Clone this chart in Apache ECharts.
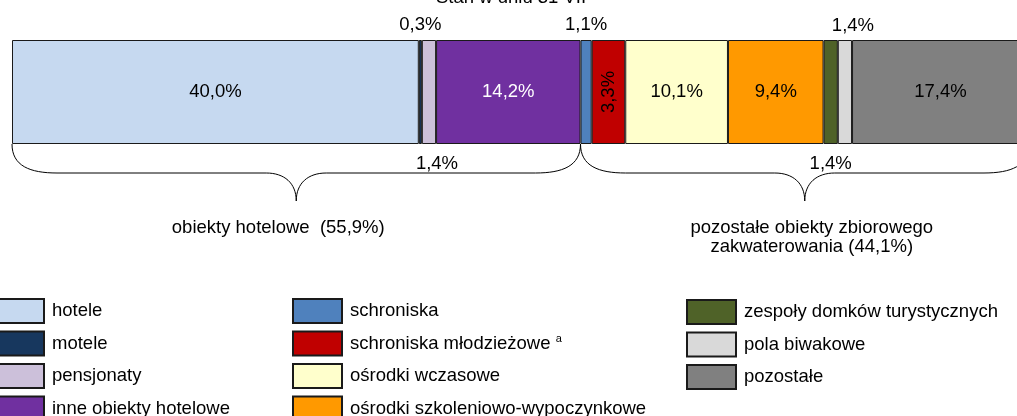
<!DOCTYPE html>
<html>
<head>
<meta charset="utf-8">
<script src="https://cdn.jsdelivr.net/npm/echarts@6/dist/echarts.min.js"></script>
<style>
html,body{margin:0;padding:0;background:#fff;overflow:hidden;width:1017px;height:416px;}
#chart{width:1045px;height:440px;}
</style>
</head>
<body>
<div id="chart"></div>
<script>
// ---- data ----
const categoryNames = ['hotele', 'motele', 'pensjonaty', 'inne obiekty hotelowe',
  'schroniska', 'schroniska młodzieżowe', 'ośrodki wczasowe', 'ośrodki szkoleniowo-wypoczynkowe',
  'zespoły domków turystycznych', 'pola biwakowe', 'pozostałe'];
const shares = [40.0, 0.3, 1.4, 14.2, 1.1, 3.3, 10.1, 9.4, 1.4, 1.4, 17.4];
const groupNames = ['obiekty hotelowe  (55,9%)', 'pozostałe obiekty zbiorowego\nzakwaterowania (44,1%)'];
const groupStart = [0, 55.9];
const groupEnd = [55.9, 100];
const titleText = 'Stan w dniu 31 VII';
const legendCol1 = ['hotele', 'motele', 'pensjonaty', 'inne obiekty hotelowe'];
const legendCol2 = ['schroniska', 'schroniska młodzieżowe', 'ośrodki wczasowe', 'ośrodki szkoleniowo-wypoczynkowe'];
const legendCol3 = ['zespoły domków turystycznych', 'pola biwakowe', 'pozostałe'];

// ---- styles ----
const FONT = "'Liberation Sans', Arial, sans-serif";
const FS = 18.5;
const colors = ['#C6D9F0', '#17375E', '#CCC0DA', '#7030A0', '#4F81BD', '#C00000',
  '#FFFFCC', '#FF9900', '#4F6228', '#D9D9D9', '#808080'];
const labelCfg = [
  {position: 'inside', color: '#000'},
  {position: 'top', distance: 6},
  {position: 'bottom', distance: 10, offset: [8, 0]},
  {position: 'inside', color: '#fff'},
  {position: 'top', distance: 6},
  {position: 'inside', color: '#000', rotate: 90},
  {position: 'inside', color: '#000'},
  {position: 'inside', color: '#000'},
  {position: 'bottom', distance: 10},
  {position: 'top', distance: 5, offset: [8, 0]},
  {position: 'inside', color: '#000'}
];
const groupLabelDx = [-18, 7];

const fmt = v => v.toFixed(1).replace('.', ',') + '%';

const series = categoryNames.map((name, i) => ({
  name: name,
  type: 'bar',
  stack: 'all',
  barWidth: '100%',
  data: [shares[i]],
  itemStyle: {color: colors[i], borderColor: '#1a1a1a', borderWidth: 1},
  label: Object.assign({
    show: true,
    color: '#000',
    fontFamily: FONT,
    fontSize: FS,
    formatter: p => fmt(p.value)
  }, labelCfg[i]),
  emphasis: {disabled: true},
  silent: true
}));

series.push({
  type: 'custom',
  name: 'braces',
  clip: false,
  silent: true,
  encode: {x: [0, 1], y: 2},
  data: groupStart.map((s, i) => [s, groupEnd[i], 0, i]),
  renderItem: function (params, api) {
    const s = api.value(0), e = api.value(1), idx = api.value(3);
    const p1 = api.coord([s, 0]);
    const p2 = api.coord([e, 0]);
    const band = api.size([0, 1])[1];
    const yb = p1[1] + band / 2;
    const x1 = p1[0], x2 = p2[0], mid = (x1 + x2) / 2;
    const yh = yb + 29, yt = yb + 57;
    const path =
      'M' + x1 + ' ' + yb +
      ' C' + x1 + ' ' + (yb + 22) + ' ' + (x1 + 18) + ' ' + yh + ' ' + (x1 + 45) + ' ' + yh +
      ' L' + (mid - 30) + ' ' + yh +
      ' C' + (mid - 12) + ' ' + yh + ' ' + mid + ' ' + (yh + 10) + ' ' + mid + ' ' + yt +
      ' M' + mid + ' ' + yt +
      ' C' + mid + ' ' + (yh + 10) + ' ' + (mid + 12) + ' ' + yh + ' ' + (mid + 30) + ' ' + yh +
      ' L' + (x2 - 45) + ' ' + yh +
      ' C' + (x2 - 18) + ' ' + yh + ' ' + x2 + ' ' + (yb + 22) + ' ' + x2 + ' ' + yb;
    return {
      type: 'group',
      children: [
        {type: 'path', shape: {pathData: path}, style: {stroke: '#000', fill: null, lineWidth: 1}},
        {type: 'text', style: {
          text: groupNames[idx], x: mid + groupLabelDx[idx], y: yt + 17,
          align: 'center', verticalAlign: 'top', lineHeight: 19,
          fontFamily: FONT, fontSize: FS, fill: '#000'
        }}
      ]
    };
  }
});

function legendCol(data, left, top) {
  return {
    data: data.map(n => ({name: n, icon: 'rect'})),
    orient: 'vertical',
    left: left,
    top: top,
    padding: 0,
    itemWidth: 49,
    itemHeight: 24,
    itemGap: 6.5,
    selectedMode: false,
    formatter: n => n === 'schroniska młodzieżowe' ? n + ' {sup|a}' : n,
    textStyle: {
      fontFamily: FONT, fontSize: FS, color: '#000', padding: [0, 0, 0, 3],
      rich: {sup: {fontFamily: FONT, fontSize: 11, color: '#000', padding: [0, 0, 10, 0]}}
    }
  };
}

const chart = echarts.init(document.getElementById('chart'), null, {renderer: 'canvas'});
chart.setOption({
  animation: false,
  backgroundColor: '#fff',
  title: {
    text: titleText, left: 436, top: -12, padding: 0,
    textStyle: {fontFamily: FONT, fontSize: FS, fontWeight: 'normal', color: '#000'}
  },
  grid: {left: 12, width: 1017, top: 40, height: 104, containLabel: false},
  xAxis: {type: 'value', min: 0, max: 100, show: false},
  yAxis: {type: 'category', data: [''], show: false},
  legend: [legendCol(legendCol1, -6, 298), legendCol(legendCol2, 292, 298), legendCol(legendCol3, 686, 299)],
  series: series
});
</script>
</body>
</html>
